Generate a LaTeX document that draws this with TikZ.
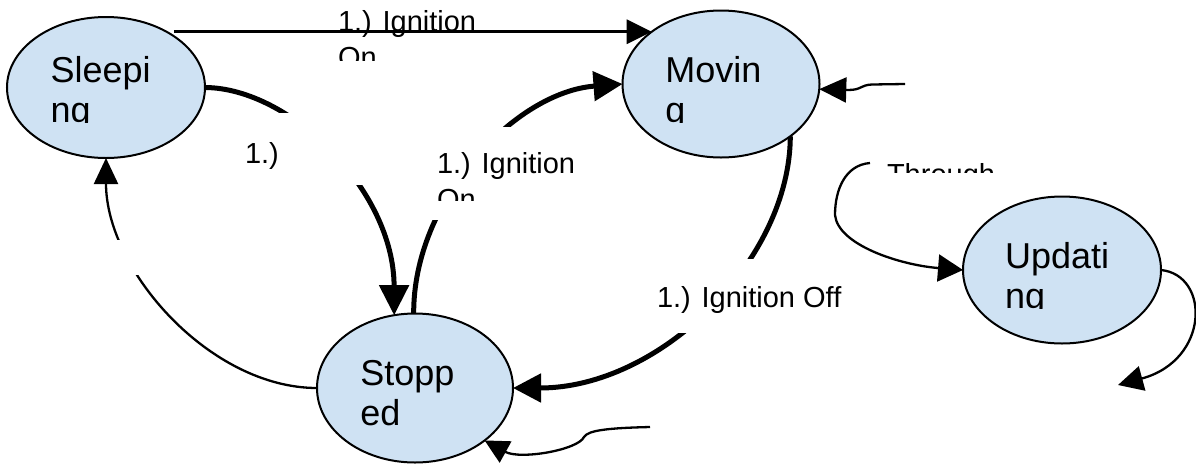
\documentclass[tikz,border=0pt]{standalone}
\usepackage{fontspec}
\setmainfont{Liberation Sans}
\usetikzlibrary{arrows.meta,shapes.geometric}
\pgfdeclarelayer{bg}
\pgfsetlayers{bg,main}
\definecolor{stfill}{HTML}{CFE2F3}
\tikzset{
  stateell/.style={ellipse, draw=black, line width=2pt, fill=stfill, inner sep=0pt, outer sep=0pt, minimum width=197pt, minimum height=147pt},
  sttext/.style={anchor=base west, inner sep=0pt, outer sep=0pt, font=\fontsize{36}{40}\selectfont},
  lbtext/.style={anchor=base west, inner sep=0pt, outer sep=0pt, font=\fontsize{29}{35}\selectfont},
  maskbox/.style={fill=white, draw=none, inner sep=0pt, outer sep=0pt},
  thinconn/.style={line width=2.3pt},
  medconn/.style={line width=3.3pt},
  thickconn/.style={line width=5pt},
}
\begin{document}
\begin{tikzpicture}[x=1pt,y=-1pt]
\useasboundingbox (0,0) rectangle (1196,464);
% states
\node[stateell, minimum width=198pt, minimum height=141pt] (slp) at (106,87.5) {};
\node[stateell] (mov) at (721,84) {};
\node[stateell, minimum width=196pt, minimum height=149pt] (stp) at (415,388) {};
\node[stateell, minimum width=198pt] (upd) at (1062,270) {};
% free ends
\coordinate (thrS) at (870,163);
\coordinate (updE) at (1118,385);
\coordinate (movR) at (905,84);
\coordinate (stpR) at (650,427);
% connectors
\begin{pgfonlayer}{bg}
\draw[medconn,-{Triangle[length=25pt,width=24pt]}] (slp.37 |- mov.143) -- (mov.143);
\draw[thickconn,-{Triangle[length=30pt,width=29pt]}] (slp.east) .. controls (290,88) and (394,190) .. (stp.106);
\draw[thickconn,-{Triangle[length=29pt,width=29pt]}] (stp.91) .. controls (413,200) and (515,92) .. (mov.west);
\draw[thickconn,-{Triangle[length=28pt,width=28pt]}] (mov.-37.5) .. controls (790,260) and (660,388) .. (stp.east);
\draw[thinconn,-{Triangle[length=26pt,width=24pt]}] (stp.west) .. controls (210,388) and (106,270) .. (slp.south);
\draw[thinconn,-{Triangle[length=25pt,width=27pt]}] (thrS) .. controls (845,165) and (835,190) .. (835,215) .. controls (838,245) and (900,265) .. (upd.west);
\draw[thinconn,-{Triangle[length=25pt,width=25pt]}] (upd.east) .. controls (1210,275) and (1210,360) .. (updE);
\draw[thinconn,-{Triangle[length=27pt,width=25pt]}] (movR) -- (872,84.5) .. controls (860,85) and (862,90) .. (848,90) -- (mov.-3.5);
\draw[thinconn,-{Triangle[length=24pt,width=24pt]}] (stpR) .. controls (610,428) and (588,430) .. (584,437) .. controls (578,450) and (520,460) .. (stp.-37);
\end{pgfonlayer}
% label boxes
\node[maskbox, minimum width=125pt, minimum height=72pt] (m1) at (302.5,149) {};
\node[maskbox, minimum width=155pt, minimum height=93pt] (m2) at (507.5,173.5) {};
\node[maskbox, minimum width=198pt, minimum height=74pt] (m3) at (749,296) {};
\node[maskbox, minimum width=65pt, minimum height=35pt] (m4) at (132.5,257.5) {};
% labels
\begin{scope}
\clip (330,0) rectangle (495,60);
\node[lbtext] (l0a) at (338,31) {1.) Ignition};
\node[lbtext] (l0b) at (338,67) {On};
\end{scope}
\node[lbtext] (l1) at (245,163) {1.)};
\begin{scope}
\clip (430,130) rectangle (590,200);
\node[lbtext] (l2a) at (437,173) {1.) Ignition};
\node[lbtext] (l2b) at (437,209) {On};
\end{scope}
\node[lbtext] (l3) at (657,307) {1.) Ignition Off};
\begin{scope}
\clip (880,150) rectangle (1010,172);
\node[lbtext] (l4) at (887,184) {Through};
\end{scope}
% state texts
\begin{scope}
\clip (40,40) rectangle (200,122);
\node[sttext] (t1a) at (50.5,82) {Sleepi};
\node[sttext] (t1b) at (50.5,122) {ng};
\end{scope}
\begin{scope}
\clip (655,40) rectangle (815,122);
\node[sttext] (t2a) at (665.3,82) {Movin};
\node[sttext] (t2b) at (665.3,122) {g};
\end{scope}
\begin{scope}
\clip (350,340) rectangle (510,426);
\node[sttext] (t3a) at (360.3,385) {Stopp};
\node[sttext] (t3b) at (360.3,425) {ed};
\end{scope}
\begin{scope}
\clip (995,225) rectangle (1155,308);
\node[sttext] (t4a) at (1005,268) {Updati};
\node[sttext] (t4b) at (1005,308) {ng};
\end{scope}
\end{tikzpicture}
\end{document}
